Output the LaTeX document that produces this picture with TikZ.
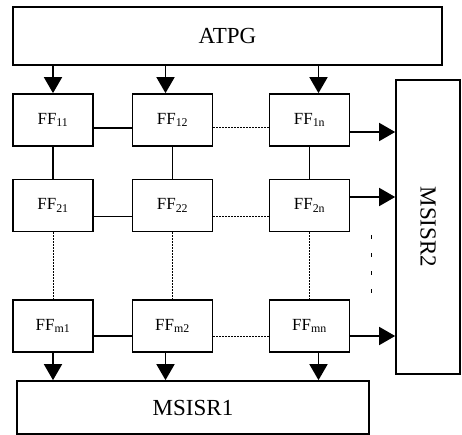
\documentclass[tikz,border=0pt]{standalone}
\usepackage{fontspec}
\setmainfont{Liberation Serif}
\usetikzlibrary{arrows.meta}
\newcommand{\ffCell}[1]{FF\textsubscript{#1}}

\begin{document}
\begin{tikzpicture}[x=1pt,y=-1pt,line width=1.7pt,
  ffbox/.style={draw, minimum width=80pt, minimum height=52pt, font=\fontsize{17}{19}\selectfont, inner sep=0pt},
  bigbox/.style={draw, font=\fontsize{23}{25}\selectfont, inner sep=0pt},
  arr/.style={-{Triangle[width=18pt,length=16pt]}},
  dots/.style={line width=1pt, dash pattern=on 1.5pt off 1.5pt}]
\useasboundingbox (0,0) rectangle (462,435);
\node[bigbox, minimum width=429pt, minimum height=58pt] (atpg) at (227.5,36) {ATPG};
\node[bigbox, minimum width=64pt, minimum height=294pt] (msisr2) at (428,227) {};
\node[bigbox, minimum width=352pt, minimum height=53pt] (msisr1) at (193,407.5) {MSISR1};
\node[rotate=-90, font=\fontsize{23}{25}\selectfont] (msisr2text) at (msisr2.center) {MSISR2};
% flip-flop grid
\node[ffbox] (f11) at (53,120) {\ffCell{11}\hspace{8pt}};
\node[ffbox] (f12) at (172.5,120) {\ffCell{12}\hspace{8pt}};
\node[ffbox] (f1n) at (309.5,120) {\ffCell{1n}\hspace{8pt}};
\node[ffbox] (f21) at (53,205.5) {\ffCell{21}\hspace{8pt}};
\node[ffbox] (f22) at (172.5,205.5) {\ffCell{22}\hspace{8pt}};
\node[ffbox] (f2n) at (309.5,205.5) {\ffCell{2n}\hspace{8pt}};
\node[ffbox] (fm1) at (53,326) {\ffCell{m1}\hspace{8pt}};
\node[ffbox] (fm2) at (172.5,326) {\ffCell{m2}\hspace{8pt}};
\node[ffbox] (fmn) at (309.5,326) {\ffCell{mn}\hspace{8pt}};
% ATPG feeds the first row
\draw[arr] (atpg.south -| f11.north) -- (f11.north);
\draw[arr] ([xshift=-7pt]f12.north |- atpg.south) -- ([xshift=-7pt]f12.north);
\draw[arr] ([xshift=9pt]f1n.north |- atpg.south) -- ([xshift=9pt]f1n.north);
% last row feeds MSISR1
\draw[arr] (fm1.south) -- (fm1.south |- msisr1.north);
\draw[arr] ([xshift=-7pt]fm2.south) -- ([xshift=-7pt]fm2.south |- msisr1.north);
\draw[arr] ([xshift=9pt]fmn.south) -- ([xshift=9pt]fmn.south |- msisr1.north);
% last column feeds MSISR2
\draw[arr] ([yshift=-12pt]f1n.east) -- ([yshift=-12pt]f1n.east -| msisr2.west);
\draw[arr] ([yshift=8.5pt]f2n.east) -- ([yshift=8.5pt]f2n.east -| msisr2.west);
\draw[arr] ([yshift=-10pt]fmn.east) -- ([yshift=-10pt]fmn.east -| msisr2.west);
% row links
\draw ([yshift=-8pt]f11.east) -- ([yshift=-8pt]f12.west);
\draw[dots] ([yshift=-8pt]f12.east) -- ([yshift=-8pt]f1n.west);
\draw ([yshift=-11pt]f21.east) -- ([yshift=-11pt]f22.west);
\draw[dots] ([yshift=-11pt]f22.east) -- ([yshift=-11pt]f2n.west);
\draw ([yshift=-10pt]fm1.east) -- ([yshift=-10pt]fm2.west);
\draw[dots] ([yshift=-10pt]fm2.east) -- ([yshift=-10pt]fmn.west);
% column links
\draw (f11) -- (f21);
\draw (f12) -- (f22);
\draw (f1n) -- (f2n);
\draw[dots] (f21) -- (fm1);
\draw[dots] (f22) -- (fm2);
\draw[dots] (f2n) -- (fmn);
\coordinate (vtop) at (371,235);
\coordinate (vbot) at (371,296);
\draw[line width=1pt, dash pattern=on 4pt off 14pt] (vtop) -- (vbot);
\end{tikzpicture}
\end{document}
